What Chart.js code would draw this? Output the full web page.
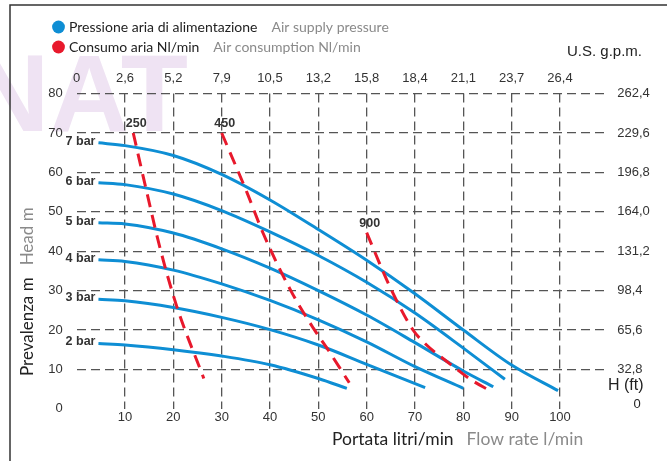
<!DOCTYPE html>
<html><head><meta charset="utf-8">
<script src="https://cdn.jsdelivr.net/npm/chart.js@4/dist/chart.umd.min.js"></script>
<style>html,body{margin:0;padding:0;background:#fff;}canvas{display:block;}</style>
</head><body>
<canvas id="c" width="667" height="461"></canvas>
<script>
// ---- tick labels ----
const gpmLabels = ['0','2,6','5,2','7,9','10,5','13,2','15,8','18,4','21,1','23,7','26,4'];
const ftLabels  = ['0','32,8','65,6','98,4','131,2','164,0','196,8','229,6','262,4'];

// ---- pressure curves (flow l/min, head m) ----
const pressureNames = ['7 bar','6 bar','5 bar','4 bar','3 bar','2 bar'];
const bar7 = [[4.5,67.5],[10,66.8],[20,64.3],[30,59.5],[40,53.0],[50,45.5],[60,37.7],[70,29.2],[80,20.0],[90,11.1],[99.6,4.6]];
const bar6 = [[4.5,57.4],[10,56.9],[20,54.5],[30,50.3],[40,44.9],[50,38.9],[60,32.1],[70,24.3],[80,15.4],[88.6,7.5]];
const bar5 = [[4.5,47.2],[10,46.9],[20,44.6],[30,40.6],[40,35.7],[50,30.0],[60,23.8],[70,16.8],[80,9.6],[86.2,5.6]];
const bar4 = [[4.5,37.8],[10,37.4],[20,35.2],[30,31.7],[40,27.5],[50,22.6],[60,17.0],[70,10.7],[80,5.2]];
const bar3 = [[4.5,27.8],[10,27.4],[20,25.7],[30,23.2],[40,20.1],[50,16.2],[60,11.3],[72.1,5.4]];
const bar2 = [[4.5,16.6],[10,16.2],[20,15.0],[30,13.4],[40,11.2],[50,7.7],[55.9,5.2]];

// ---- air consumption lines (Nl/min) ----
const airNames = ['250','450','900'];
const air250 = [[11.7,70],[14.5,55],[17.2,41],[20.7,26],[26.3,7.7]];
const air450 = [[30,70],[35.2,55],[38.6,44.5],[44.3,30],[49,20.4],[52,15],[56.4,6.6]];
const air900 = [[60,44.7],[64.8,31],[69.6,20],[72.4,16.2],[76.6,12],[81.7,7.3],[85.5,4.6]];

const BLUE = '#0e8ed4', RED = '#e8192c';
const NUM_FONT = "'Liberation Sans', Arial, sans-serif";
const TXT_FONT = "Lato, 'Liberation Sans', sans-serif";

const toPts = a => a.map(p => ({x: p[0], y: p[1]}));
const airSets = [air250, air450, air900].map((d, i) => ({
  label: airNames[i], data: toPts(d), borderColor: RED, borderWidth: 3,
  borderDash: [13, 8], pointRadius: 0, fill: false, cubicInterpolationMode: 'monotone', kind: 'air'
}));
const presSets = [bar7, bar6, bar5, bar4, bar3, bar2].map((d, i) => ({
  label: pressureNames[i], data: toPts(d), borderColor: BLUE, borderWidth: 3,
  pointRadius: 0, fill: false, cubicInterpolationMode: 'monotone', kind: 'pres'
}));

const decor = {
  id: 'decor',
  beforeDraw(chart) {
    const ctx = chart.ctx;
    ctx.save();
    ctx.fillStyle = '#fff';
    ctx.fillRect(0, 0, chart.width, chart.height);
    // faint watermark
    ctx.fillStyle = '#efe3f3';
    ctx.font = "bold 110px 'Liberation Sans', Arial, sans-serif";
    ctx.textBaseline = 'alphabetic';
    ctx.fillText('NAT', -30, 131);
    // frame
    ctx.strokeStyle = '#333';
    ctx.lineWidth = 1.5;
    ctx.beginPath();
    ctx.moveTo(10, 461); ctx.lineTo(10, 5); ctx.lineTo(667, 5);
    ctx.stroke();
    ctx.restore();
  },
  afterDraw(chart) {
    const ctx = chart.ctx;
    const xs = chart.scales.x, ys = chart.scales.y;
    ctx.save();
    // legend
    ctx.textBaseline = 'middle';
    ctx.font = '14px ' + TXT_FONT;
    const leg = [[BLUE, 'Pressione aria di alimentazione', 'Air supply pressure', 27],
                 [RED, 'Consumo aria Nl/min', 'Air consumption Nl/min', 47]];
    leg.forEach(([c, a, b, y]) => {
      ctx.fillStyle = c;
      ctx.beginPath(); ctx.arc(58.5, y, 6.4, 0, Math.PI * 2); ctx.fill();
      ctx.fillStyle = '#222'; ctx.textAlign = 'left';
      ctx.fillText(a, 69, y);
      const w = ctx.measureText(a).width;
      ctx.fillStyle = '#8a8a8a';
      ctx.fillText(b, 69 + w + 14, y);
    });
    // x title
    ctx.font = '17.5px ' + TXT_FONT;
    ctx.fillStyle = '#222';
    ctx.fillText('Portata litri/min', 332, 439);
    const wx = ctx.measureText('Portata litri/min').width;
    ctx.fillStyle = '#8a8a8a';
    ctx.fillText('Flow rate l/min', 332 + wx + 13, 439);
    // y title
    ctx.save();
    ctx.translate(28, 376);
    ctx.rotate(-Math.PI / 2);
    ctx.font = '17px ' + TXT_FONT;
    ctx.fillStyle = '#222';
    ctx.fillText('Prevalenza m', 0, 0);
    const wy = ctx.measureText('Prevalenza m').width;
    ctx.fillStyle = '#8a8a8a';
    ctx.fillText('Head m', wy + 12, 0);
    ctx.restore();
    // unit labels
    ctx.fillStyle = '#222';
    ctx.font = '15px ' + NUM_FONT;
    ctx.textAlign = 'left';
    ctx.fillText('U.S. g.p.m.', 567, 52);
    ctx.font = '16px ' + NUM_FONT;
    ctx.fillText('H (ft)', 608, 386);
    ctx.font = '13px ' + NUM_FONT;
    ctx.textAlign = 'center';
    ctx.fillText(ftLabels[0], 637, 404);
    // curve labels
    ctx.font = 'bold 12.5px ' + NUM_FONT;
    ctx.fillStyle = '#333';
    chart.data.datasets.forEach(ds => {
      const p = ds.data[0];
      const px = xs.getPixelForValue(p.x), py = ys.getPixelForValue(p.y);
      if (ds.kind === 'pres') {
        ctx.textAlign = 'right'; ctx.textBaseline = 'middle';
        ctx.fillText(ds.label, px - 3, py - 1.5);
      } else {
        ctx.textAlign = 'center'; ctx.textBaseline = 'bottom';
        ctx.fillText(ds.label, px + 3, py - 3);
      }
    });
    ctx.restore();
  }
};

const gridColorX = c => (c.tick && c.tick.value >= 10 && c.tick.value <= 100) ? '#555' : 'rgba(0,0,0,0)';
const gridColorY = c => (c.tick && c.tick.value >= 10) ? '#555' : 'rgba(0,0,0,0)';
const tickFont = {family: NUM_FONT, size: 13};

new Chart(document.getElementById('c'), {
  type: 'line',
  data: {datasets: [...airSets, ...presSets]},
  options: {
    responsive: false, animation: false,
    layout: {padding: 0},
    plugins: {legend: {display: false}, tooltip: {enabled: false}},
    scales: {
      x: {
        type: 'linear', position: 'bottom', min: 0, max: 110,
        afterFit(s) { s.height = 52.2; },
        ticks: {stepSize: 10, padding: 1, color: '#333', font: tickFont, maxRotation: 0,
                callback: v => (v >= 10 && v <= 100) ? String(v) : ''},
        grid: {color: gridColorX, lineWidth: 1.3, drawTicks: false},
        border: {display: false, dash: [9, 5]}
      },
      x2: {
        type: 'linear', position: 'top', min: 0, max: 110,
        afterFit(s) { s.height = 93.6; },
        ticks: {stepSize: 10, padding: 7, color: '#333', font: tickFont, maxRotation: 0,
                callback: v => gpmLabels[Math.round(v / 10)] ?? ''},
        grid: {display: false, drawTicks: false},
        border: {display: false}
      },
      y: {
        type: 'linear', position: 'left', min: 0, max: 80,
        afterFit(s) { s.width = 76.7; },
        ticks: {stepSize: 10, padding: 14, color: '#333', font: tickFont},
        grid: {color: gridColorY, lineWidth: 1.3, drawTicks: false},
        border: {display: false, dash: [9, 5]}
      },
      y2: {
        type: 'linear', position: 'right', min: 0, max: 80,
        afterFit(s) { s.width = 58.7; },
        ticks: {stepSize: 10, padding: 9, color: '#333', font: tickFont,
                callback: v => v === 0 ? '' : ftLabels[Math.round(v / 10)]},
        grid: {display: false, drawTicks: false},
        border: {display: false}
      }
    }
  },
  plugins: [decor]
});
</script>
</body></html>
